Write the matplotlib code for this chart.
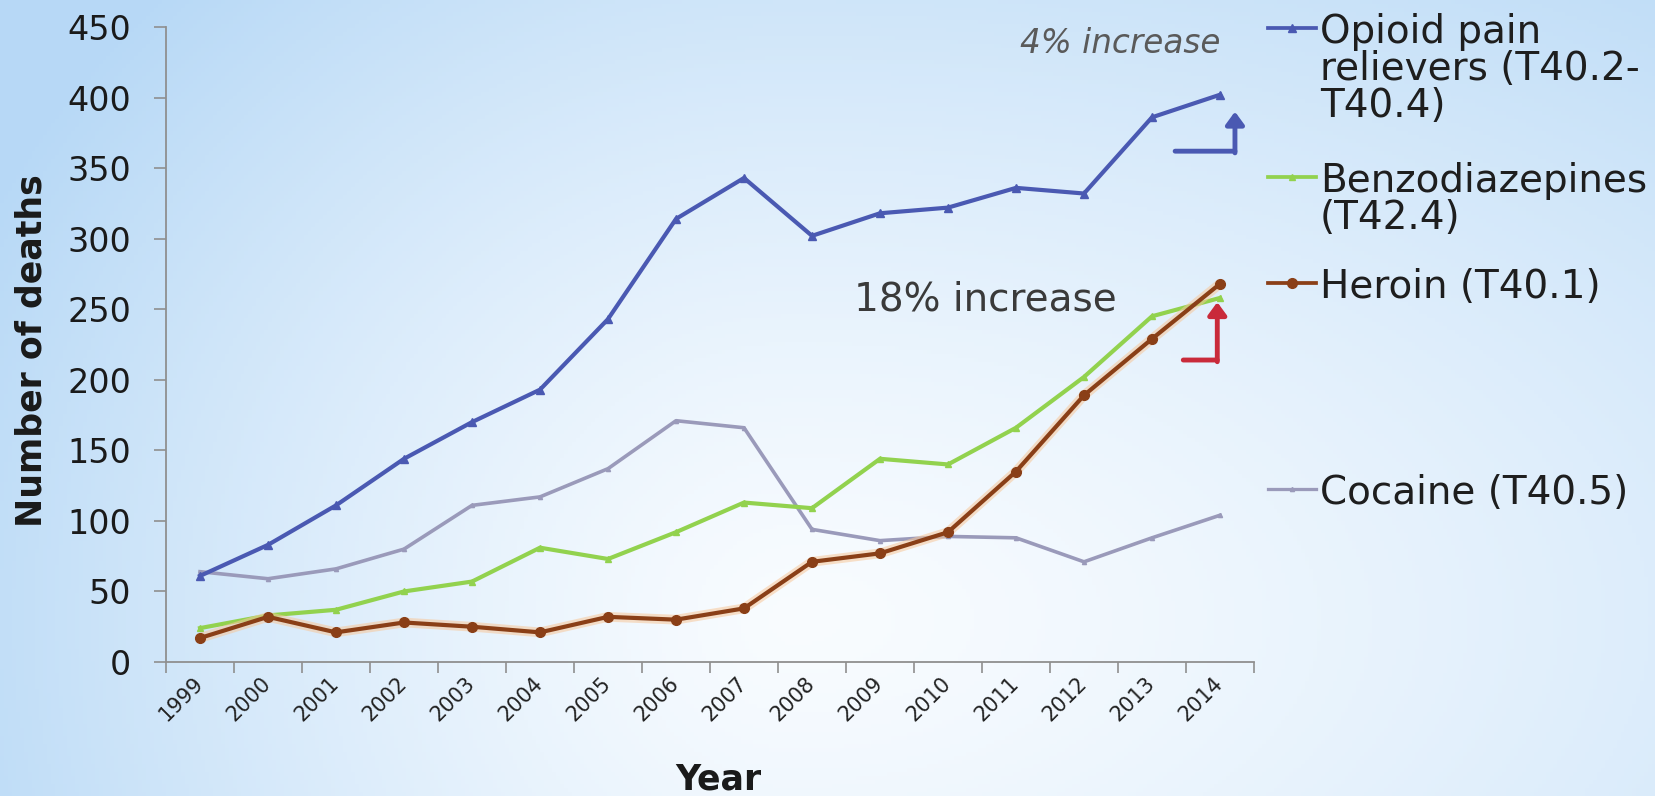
# Opioid / benzodiazepine / heroin / cocaine overdose deaths, 1999-2014

import matplotlib
matplotlib.use("Agg")
import matplotlib.pyplot as plt
from matplotlib.lines import Line2D
from matplotlib.transforms import ScaledTranslation
import numpy as np


# ----------------------------------------------------------------
# Data
years = [str(y) for y in range(1999, 2015)]

opioid = [61, 83, 111, 144, 170, 193, 243, 314, 343, 302, 318, 322, 336, 332, 386, 402]
benzo = [24, 33, 37, 50, 57, 81, 73, 92, 113, 109, 144, 140, 166, 202, 245, 258]
heroin = [17, 32, 21, 28, 25, 21, 32, 30, 38, 71, 77, 92, 135, 189, 229, 268]
cocaine = [64, 59, 66, 80, 111, 117, 137, 171, 166, 94, 86, 89, 88, 71, 88, 104]

series_names = ["Opioid pain\nrelievers (T40.2-\nT40.4)",
                "Benzodiazepines\n(T42.4)",
                "Heroin (T40.1)",
                "Cocaine (T40.5)"]
series_values = [opioid, benzo, heroin, cocaine]

y_ticks = list(range(0, 451, 50))

# Styles
colors = ["#4a59b2", "#92d24e", "#8a3f17", "#9a9aba"]
markers = ["^", "^", "o", "^"]
marker_sizes = [6, 4, 7, 3]
line_widths = [3.0, 3.0, 3.0, 2.6]
legend_y_px = [28, 177, 283, 489]   # first-line centre of each legend entry (px from top)
legend_pitch = 37

W, H = 1656, 796


def make_background(fig):
    # soft radial blue-white gradient behind everything
    bg = fig.add_axes([0, 0, 1, 1], zorder=-1)
    bg.axis("off")
    xx, yy = np.meshgrid(np.linspace(0, 1, 420), np.linspace(0, 1, 200))
    sx = np.where(xx < 0.48, 0.55, 1.0)
    r = np.sqrt(((xx - 0.48) / sx) ** 2 + ((yy - 0.78) / 1.1) ** 2)
    t = np.clip(r, 0, 1) ** 1.3
    white = np.array([0.975, 0.988, 1.0])
    blue = np.array([0.72, 0.85, 0.965])
    img = white[None, None, :] * (1 - t[..., None]) + blue[None, None, :] * t[..., None]
    bg.imshow(img, aspect="auto", extent=[0, 1, 0, 1], origin="upper")


def main():
    fig = plt.figure(figsize=(W / 100, H / 100), dpi=100)
    make_background(fig)

    ax = fig.add_axes([166 / W, 134 / H, 1088 / W, 635 / H])
    ax.set_facecolor("none")

    x = np.arange(len(years))
    for i, vals in enumerate(series_values):
        z = 4 if i == 2 else 3 + (3 - i) * 0.1
        if i == 2:
            # light orange glow under the heroin line
            ax.plot(x, vals, color="#f7c79a", lw=7, alpha=0.55, zorder=z - 0.05,
                    solid_capstyle="round")
        ax.plot(x, vals, color=colors[i], lw=line_widths[i], marker=markers[i],
                ms=marker_sizes[i], zorder=z)

    ax.set_xlim(-0.5, len(years) - 0.5)
    ax.set_ylim(0, 450)

    for side in ["top", "right"]:
        ax.spines[side].set_visible(False)
    for side in ["left", "bottom"]:
        ax.spines[side].set_color("#8f8f8f")
        ax.spines[side].set_linewidth(1.3)

    # category boundaries get the tick marks, labels sit on the categories
    ax.set_xticks(np.arange(-0.5, len(years), 1))
    ax.set_xticklabels([])
    ax.set_xticks(x, minor=True)
    ax.set_xticklabels(years, minor=True, rotation=45, ha="right",
                       rotation_mode="anchor", fontsize=15, color="#222222")
    ax.tick_params(axis="x", which="major", length=8, width=1.2, color="#8f8f8f")
    ax.tick_params(axis="x", which="minor", length=0, pad=8)
    shift = ScaledTranslation(-5 / 72, 0, fig.dpi_scale_trans)
    for lab in ax.get_xticklabels(minor=True):
        lab.set_transform(lab.get_transform() + shift)

    ax.set_yticks(y_ticks)
    ax.set_yticklabels([str(v) for v in y_ticks], fontsize=24, color="#1a1a1a")
    ax.tick_params(axis="y", length=9, width=1.2, color="#8f8f8f", pad=16)

    fig.text(32 / W, 1 - 351 / H, "Number of deaths", rotation=90, fontsize=25,
             fontweight="bold", ha="center", va="center", color="#1a1a1a")
    fig.text(718 / W, 1 - 779 / H, "Year", fontsize=25, fontweight="bold",
             ha="center", va="center", color="#1a1a1a")

    # annotations near the last year
    last = len(years) - 1
    ax.text(last - 1.47, opioid[-1] + 36, "4% increase", fontsize=23.5, style="italic",
            color="#5a5a5a", ha="center", va="center")
    ax.text(last - 3.45, heroin[-1] - 11, "18% increase", fontsize=28,
            color="#3a3a3a", ha="center", va="center")

    # bent arrows
    head = "-|>,head_width=0.55,head_length=0.75"
    blue_x, blue_y0, blue_y1 = last + 0.22, opioid[-1] - 40, opioid[-1] - 12
    ax.annotate("", xy=(blue_x, blue_y0), xytext=(last - 0.66, blue_y0),
                arrowprops=dict(arrowstyle="-", color="#4a59b2", lw=3.5,
                                shrinkA=0, shrinkB=0), zorder=5)
    ax.annotate("", xy=(blue_x, blue_y1), xytext=(blue_x, blue_y0 - 1.2),
                arrowprops=dict(arrowstyle=head, color="#4a59b2", lw=3.5,
                                shrinkA=0, shrinkB=0), zorder=5)

    red_x, red_y0, red_y1 = last - 0.04, heroin[-1] - 54, heroin[-1] - 13
    ax.annotate("", xy=(red_x, red_y0), xytext=(last - 0.54, red_y0),
                arrowprops=dict(arrowstyle="-", color="#c92a3a", lw=3.5,
                                shrinkA=0, shrinkB=0), zorder=5)
    ax.annotate("", xy=(red_x, red_y1), xytext=(red_x, red_y0 - 1.2),
                arrowprops=dict(arrowstyle=head, color="#c92a3a", lw=3.5,
                                shrinkA=0, shrinkB=0), zorder=5)

    # legend, drawn by hand so the uneven spacing matches
    for i, name in enumerate(series_names):
        yf = 1 - legend_y_px[i] / H
        fig.add_artist(Line2D([1268 / W, 1316 / W], [yf, yf], transform=fig.transFigure,
                              color=colors[i], lw=line_widths[i] * 0.9))
        fig.add_artist(Line2D([1292 / W], [yf], transform=fig.transFigure, color=colors[i],
                              marker=markers[i], ms=marker_sizes[i]))
        for k, line in enumerate(name.split("\n")):
            fig.text(1320 / W, 1 - (legend_y_px[i] + k * legend_pitch) / H, line,
                     fontsize=28, color="#1e1e1e", ha="left", va="center_baseline")

    fig.savefig("out.png", dpi=100)


if __name__ == "__main__":
    main()
